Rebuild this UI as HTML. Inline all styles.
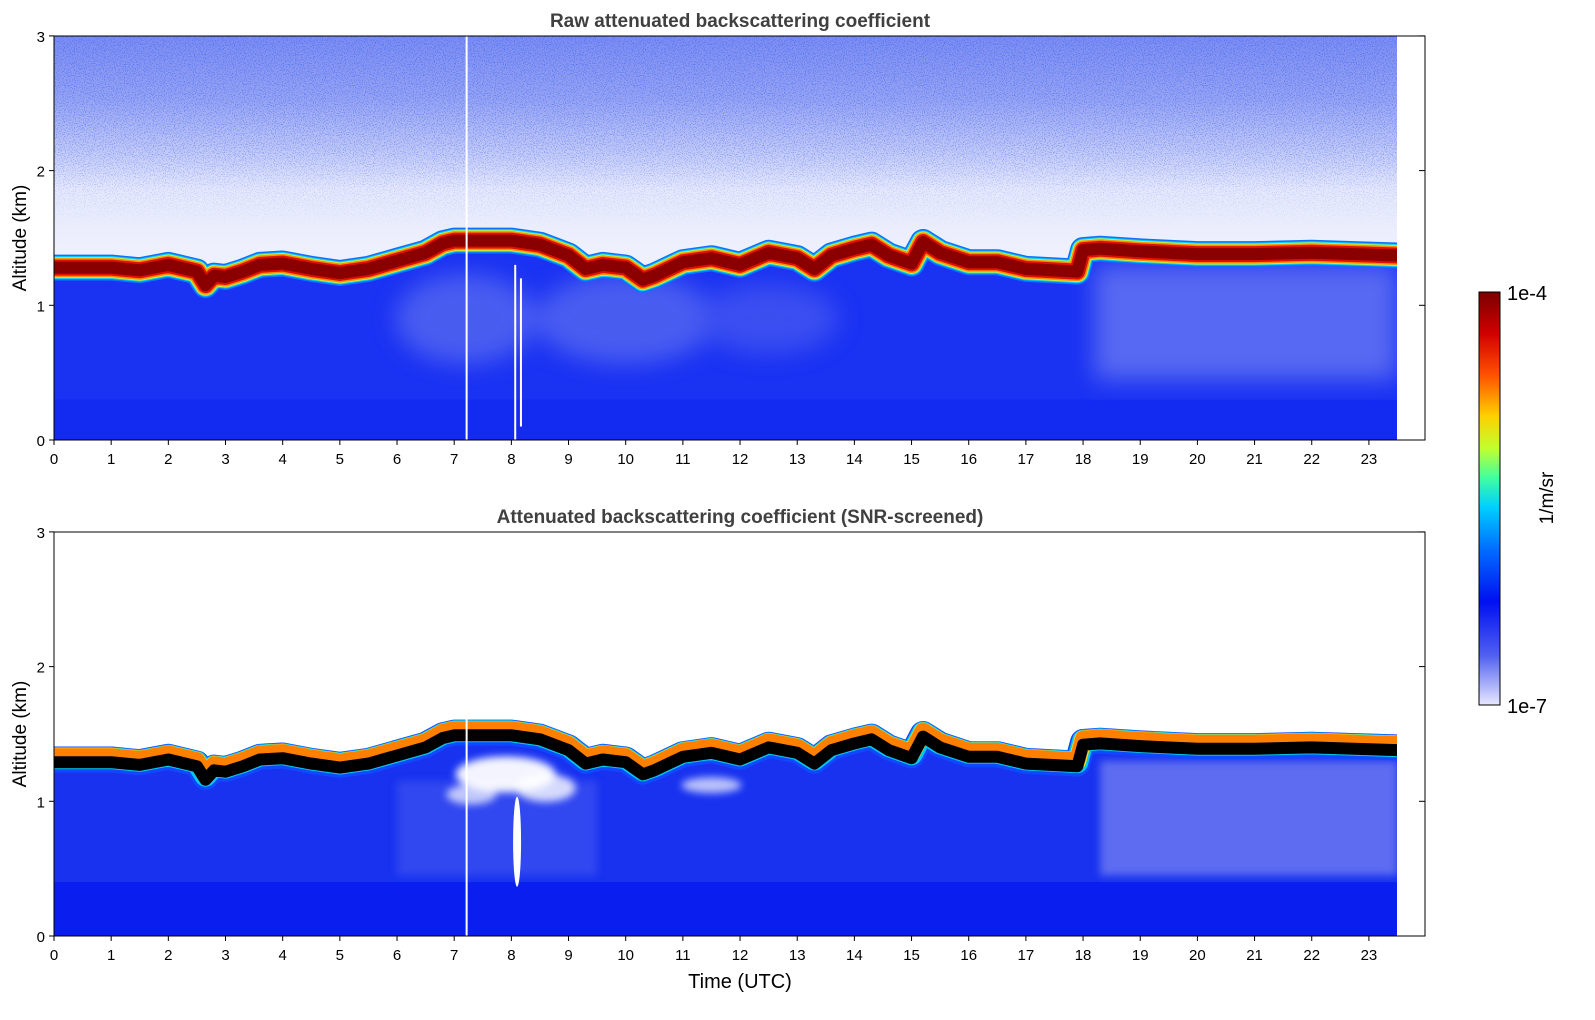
<!DOCTYPE html>
<html><head><meta charset="utf-8"><style>
body{margin:0;background:#fff;}
svg{display:block;font-family:"Liberation Sans","DejaVu Sans",sans-serif;}
</style></head><body>
<svg id="s" width="1595" height="1020" viewBox="0 0 1595 1020" xmlns="http://www.w3.org/2000/svg">
<defs>
<linearGradient id="sky" x1="0" y1="36" x2="0" y2="250" gradientUnits="userSpaceOnUse">
<stop offset="0" stop-color="#7d8cf1"/><stop offset="0.3" stop-color="#98a4f3"/><stop offset="0.55" stop-color="#c4cbf7"/>
<stop offset="0.72" stop-color="#e6e9fc"/><stop offset="1" stop-color="#eef0fd"/></linearGradient>
<linearGradient id="fade" x1="0" y1="36" x2="0" y2="230" gradientUnits="userSpaceOnUse">
<stop offset="0" stop-color="#fff" stop-opacity="1"/><stop offset="0.6" stop-color="#fff" stop-opacity="0.6"/><stop offset="1" stop-color="#fff" stop-opacity="0"/></linearGradient>
<mask id="mk"><rect x="0" y="0" width="1595" height="300" fill="url(#fade)"/></mask>
<linearGradient id="cb" x1="0" y1="0" x2="0" y2="1">
<stop offset="0" stop-color="#7a0000"/><stop offset="0.1" stop-color="#d00000"/><stop offset="0.2" stop-color="#ff5000"/>
<stop offset="0.3" stop-color="#ffd000"/><stop offset="0.38" stop-color="#c0ff30"/><stop offset="0.45" stop-color="#40ffa0"/>
<stop offset="0.52" stop-color="#00d0ff"/><stop offset="0.62" stop-color="#0070ff"/><stop offset="0.75" stop-color="#0010f0"/>
<stop offset="0.88" stop-color="#5060f0"/><stop offset="1" stop-color="#e8e8ff"/></linearGradient>
<filter id="nz" x="0" y="0" width="1" height="1"><feTurbulence type="fractalNoise" baseFrequency="0.9" numOctaves="1" seed="3"/>
<feColorMatrix type="matrix" values="0 0 0 0 0.05  0 0 0 0 0.15  0 0 0 0 0.95  0 0 0 -9 4.2"/></filter>
<filter id="bl" x="-50%" y="-50%" width="200%" height="200%"><feGaussianBlur stdDeviation="12"/></filter>
<filter id="bl2" x="-50%" y="-50%" width="200%" height="200%"><feGaussianBlur stdDeviation="4"/></filter>
<clipPath id="c1"><rect x="54" y="36" width="1343" height="404"/></clipPath>
<clipPath id="c2"><rect x="54" y="532" width="1343" height="404"/></clipPath>
</defs>
<g id="g"></g>
</svg>
<script>
const X=h=>54+h*57.17;
const P=[[0,1.31],[1,1.31],[1.5,1.29],[2,1.33],[2.5,1.28],[2.65,1.18],[2.8,1.25],[3,1.24],[3.3,1.28],[3.6,1.33],[4,1.34],[4.5,1.30],[5,1.27],[5.5,1.30],[6,1.36],[6.5,1.42],[6.8,1.49],[7,1.51],[8,1.51],[8.5,1.48],[9,1.40],[9.3,1.30],[9.6,1.33],[10,1.31],[10.3,1.22],[10.5,1.25],[11,1.35],[11.5,1.38],[12,1.33],[12.5,1.42],[13,1.38],[13.3,1.30],[13.6,1.40],[14,1.45],[14.3,1.48],[14.6,1.40],[15,1.34],[15.2,1.50],[15.5,1.42],[16,1.35],[16.5,1.35],[17,1.30],[17.9,1.28],[18.0,1.44],[18.3,1.45],[19,1.43],[20,1.41],[21,1.41],[22,1.42],[23.5,1.40]];
let o='';
function line(base,dk){return P.map(p=>X(p[0]).toFixed(1)+','+(base-(p[1]+dk)*134.7).toFixed(1)).join(' ');}
function plot(base,top){
 const cl=top?'c1':'c2';
 o+=`<g clip-path="url(#${cl})">`;
 o+=`<rect x="54" y="${base-404}" width="1343" height="404" fill="${top?'#1a32f2':'#1832f0'}"/>`;
 const K=k=>base-k*134.7;
 if(top){
  o+=`<g filter="url(#bl)" opacity="0.55">`;
  o+=`<ellipse cx="${X(7.2)}" cy="${K(0.9)}" rx="70" ry="45" fill="#7080f0"/>`;
  o+=`<ellipse cx="${X(10)}" cy="${K(0.9)}" rx="90" ry="45" fill="#7080f0"/>`;
  o+=`<ellipse cx="${X(12.5)}" cy="${K(0.9)}" rx="70" ry="35" fill="#5565f0"/>`;
  o+=`<rect x="${X(18.2)}" y="${K(1.3)}" width="${X(23.5)-X(18.2)}" height="${0.85*134.7}" fill="#8a96f2"/>`;
  o+=`</g>`;
  o+=`<rect x="54" y="${K(0.3)}" width="1343" height="${0.3*134.7}" fill="#0c22f0" opacity="0.5"/>`;
 }else{
  o+=`<g filter="url(#bl2)">`;
  o+=`<rect x="${X(18.3)}" y="${K(1.3)}" width="${X(23.5)-X(18.3)}" height="${0.85*134.7}" fill="#5d6cf0"/>`;
  o+=`<rect x="${X(6)}" y="${K(1.15)}" width="${X(9.5)-X(6)}" height="${0.7*134.7}" fill="#3a4ef0" opacity="0.8"/>`;
  o+=`</g>`;
  o+=`<rect x="54" y="${K(0.4)}" width="1343" height="${0.4*134.7}" fill="#0a1ef0"/>`;
 }
 const pts=line(base,0.05);
 o+=`<polygon points="54,${base-404} ${X(23.5)},${base-404} ${pts.split(' ').reverse().join(' ')}" fill="${top?'url(#sky)':'#fff'}"/>`;
 if(top){o+=`<rect x="54" y="36" width="1343" height="200" filter="url(#nz)" mask="url(#mk)" opacity="0.7"/>`;}
 if(!top){
  o+=`<g filter="url(#bl2)"><ellipse cx="${X(7.9)}" cy="${K(1.2)}" rx="50" ry="18" fill="#fff" opacity="0.95"/>`;
  o+=`<ellipse cx="${X(8.6)}" cy="${K(1.1)}" rx="30" ry="14" fill="#fff" opacity="0.8"/>`;
  o+=`<ellipse cx="${X(7.3)}" cy="${K(1.05)}" rx="25" ry="10" fill="#fff" opacity="0.7"/></g>`;
  o+=`<ellipse cx="${X(8.1)}" cy="${K(0.7)}" rx="4" ry="45" fill="#fff"/>`;
  o+=`<ellipse cx="${X(11.5)}" cy="${K(1.12)}" rx="30" ry="8" fill="#fff" opacity="0.7" filter="url(#bl2)"/>`;
 }
 const L=(w,c,dk)=>{o+=`<polyline points="${line(base,dk)}" fill="none" stroke="${c}" stroke-width="${w}" stroke-linejoin="round"/>`;};
 if(top){L(26,'#1070ff',-0.03);L(23,'#00d0ff',-0.03);L(21,'#c0f040',-0.03);L(19,'#ff9000',-0.03);L(16,'#e01000',-0.03);L(12,'#8a0000',-0.03);}
 else{L(26,'#1048ff',0.0);L(22,'#00c8f0',0.01);L(18,'#e8e020',0.02);L(16,'#ff8000',0.025);L(12,'#000',-0.02);}
 o+=`<rect x="${X(7.2)}" y="${base-404}" width="2" height="404" fill="#fff"/>`;
 if(top){o+=`<rect x="${X(8.05)}" y="${K(1.3)}" width="2" height="${1.3*134.7}" fill="#fff"/><rect x="${X(8.15)}" y="${K(1.2)}" width="2" height="${1.1*134.7}" fill="#fff"/>`;}
 o+=`</g>`;
 o+=`<rect x="54" y="${base-404}" width="1371" height="404" fill="none" stroke="#000" stroke-width="1"/>`;
 for(let h=0;h<=23;h++){const x=X(h);o+=`<line x1="${x}" y1="${base}" x2="${x}" y2="${base+5}" stroke="#000"/><text x="${x}" y="${base+24}" font-size="15" text-anchor="middle">${h}</text>`;}
 for(let k=0;k<=3;k++){const y=base-k*134.7;o+=`<line x1="49" y1="${y}" x2="54" y2="${y}" stroke="#000"/><line x1="1419" y1="${y}" x2="1425" y2="${y}" stroke="#000"/><text x="45" y="${y+6}" font-size="15" text-anchor="end">${k}</text>`;}
 o+=`<text transform="translate(26,${base-202}) rotate(-90)" font-size="19" text-anchor="middle">Altitude (km)</text>`;
}
plot(440,true);plot(936,false);
o+=`<text x="740" y="27" font-size="19" font-weight="bold" fill="#404040" text-anchor="middle">Raw attenuated backscattering coefficient</text>`;
o+=`<text x="740" y="523" font-size="19" font-weight="bold" fill="#404040" text-anchor="middle">Attenuated backscattering coefficient (SNR-screened)</text>`;
o+=`<text x="740" y="988" font-size="20" text-anchor="middle">Time (UTC)</text>`;
o+=`<rect x="1479" y="292" width="21" height="413" fill="url(#cb)" stroke="#000"/>`;
o+=`<text x="1507" y="300" font-size="20">1e-4</text><text x="1507" y="713" font-size="20">1e-7</text>`;
o+=`<text transform="translate(1553,498) rotate(-90)" font-size="19" text-anchor="middle">1/m/sr</text>`;
document.getElementById('g').innerHTML=o;
</script>
</body></html>
